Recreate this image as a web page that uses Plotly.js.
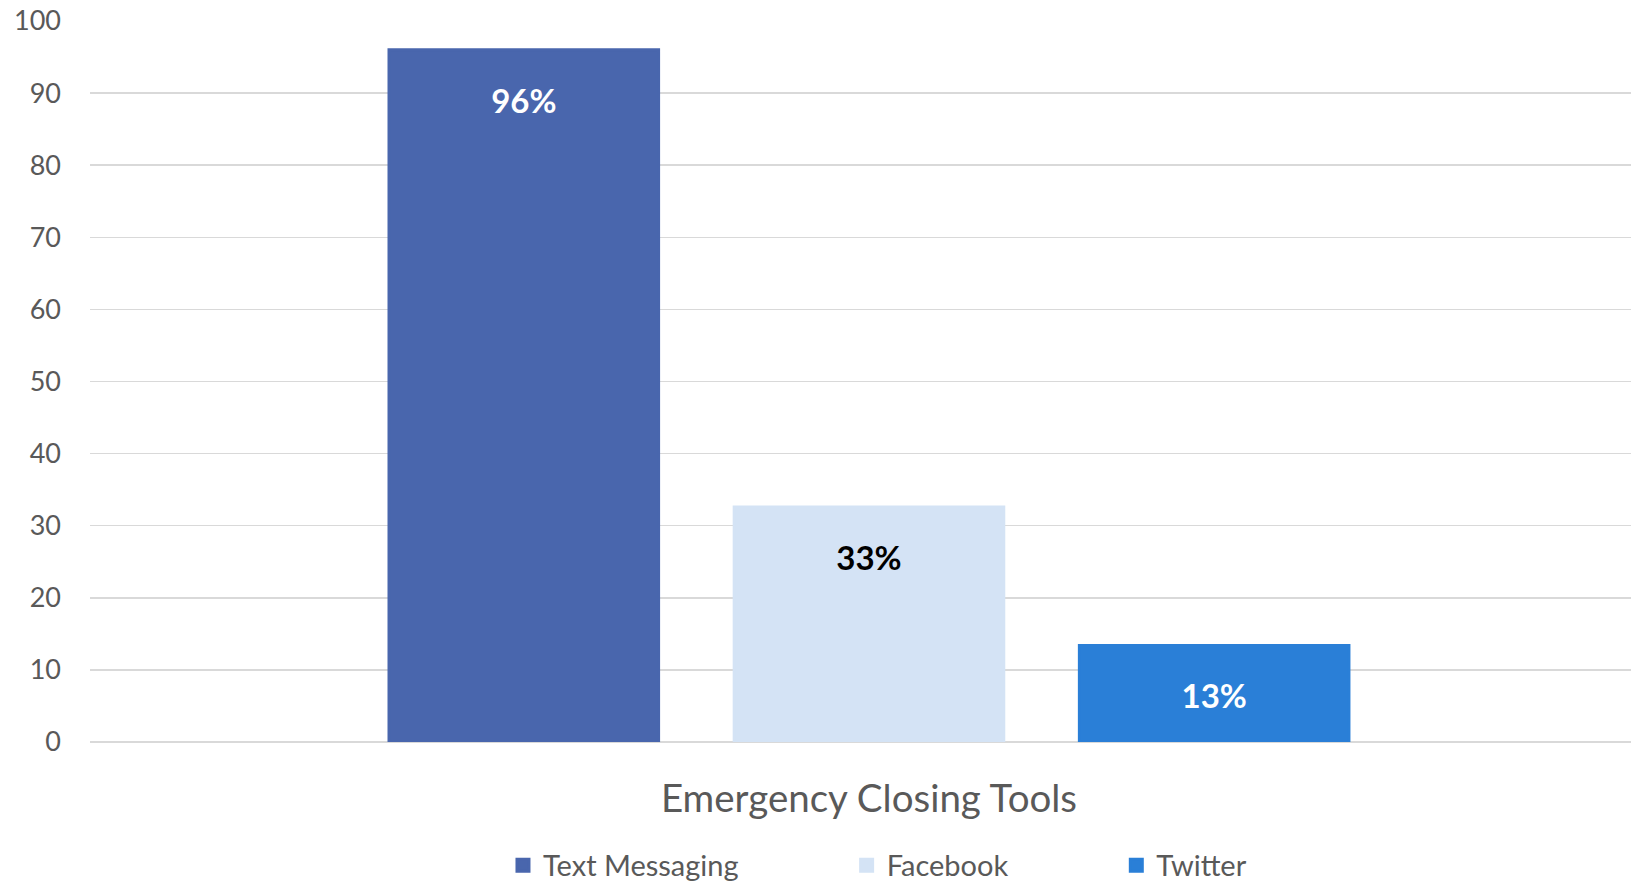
<!DOCTYPE html>
<html>
<head>
<meta charset="utf-8">
<script src="https://cdn.plot.ly/plotly-3.0.1.min.js"></script>
<style>
html,body{margin:0;padding:0;background:#fff;}
#chart{width:1631px;height:882px;}
</style>
</head>
<body>
<div id="chart"></div>
<script>
// Data
const category = ["Emergency Closing Tools"];
const seriesNames = ["Text Messaging", "Facebook", "Twitter"];
const seriesValues = [96, 32.6, 13.4];
const seriesColors = ["#4966ad", "#d4e3f5", "#2a7fd7"];
const labelColors = ["#ffffff", "#000000", "#ffffff"];
const yTickVals = [0, 10, 20, 30, 40, 50, 60, 70, 80, 90, 100];

const FONT = "Lato, 'Open Sans', sans-serif";
const legendIds = ["legend", "legend2", "legend3"];
const legendX = [0.268, 0.491, 0.666];

const traces = seriesNames.map((name, i) => ({
  type: "bar",
  name: name,
  x: category,
  y: [seriesValues[i]],
  text: ["<span style='font-size:17px'> </span><br>" + Math.round(seriesValues[i]) + "%"],
  textposition: "inside",
  insidetextanchor: "end",
  textangle: 0,
  textfont: {family: FONT, size: 33, color: labelColors[i], weight: "bold"},
  marker: {color: seriesColors[i], line: {color: seriesColors[i], width: 3}},
  legend: legendIds[i],
  hoverinfo: "skip"
}));

const legendBase = {
  orientation: "h",
  y: -0.171,
  yanchor: "middle",
  xanchor: "left",
  font: {family: FONT, size: 29, color: "#595959"},
  bgcolor: "rgba(0,0,0,0)"
};

const layout = {
  width: 1631,
  height: 882,
  margin: {l: 90, r: 0, t: 21, b: 140, autoexpand: false},
  paper_bgcolor: "#ffffff",
  plot_bgcolor: "#ffffff",
  font: {family: FONT, color: "#595959"},
  barmode: "group",
  bargap: 0.328,
  bargroupgap: 0.219,
  showlegend: true,
  xaxis: {
    type: "category",
    range: [-0.5055, 0.4945],
    showgrid: false,
    zeroline: false,
    showline: false,
    ticks: "",
    ticklabelstandoff: 30,
    tickfont: {family: FONT, size: 38.5, color: "#595959"}
  },
  yaxis: {
    range: [0, 100],
    tickvals: yTickVals,
    showgrid: true,
    gridcolor: "#d9d9d9",
    gridwidth: 1.5,
    zeroline: true,
    zerolinecolor: "#d9d9d9",
    zerolinewidth: 1.5,
    showline: false,
    ticks: "",
    ticklabelstandoff: 28,
    tickfont: {family: FONT, size: 27, color: "#595959"}
  }
};
legendIds.forEach((id, i) => {
  layout[id] = Object.assign({}, legendBase, {x: legendX[i]});
});

Plotly.newPlot("chart", traces, layout, {displayModeBar: false, staticPlot: true});
</script>
</body>
</html>
